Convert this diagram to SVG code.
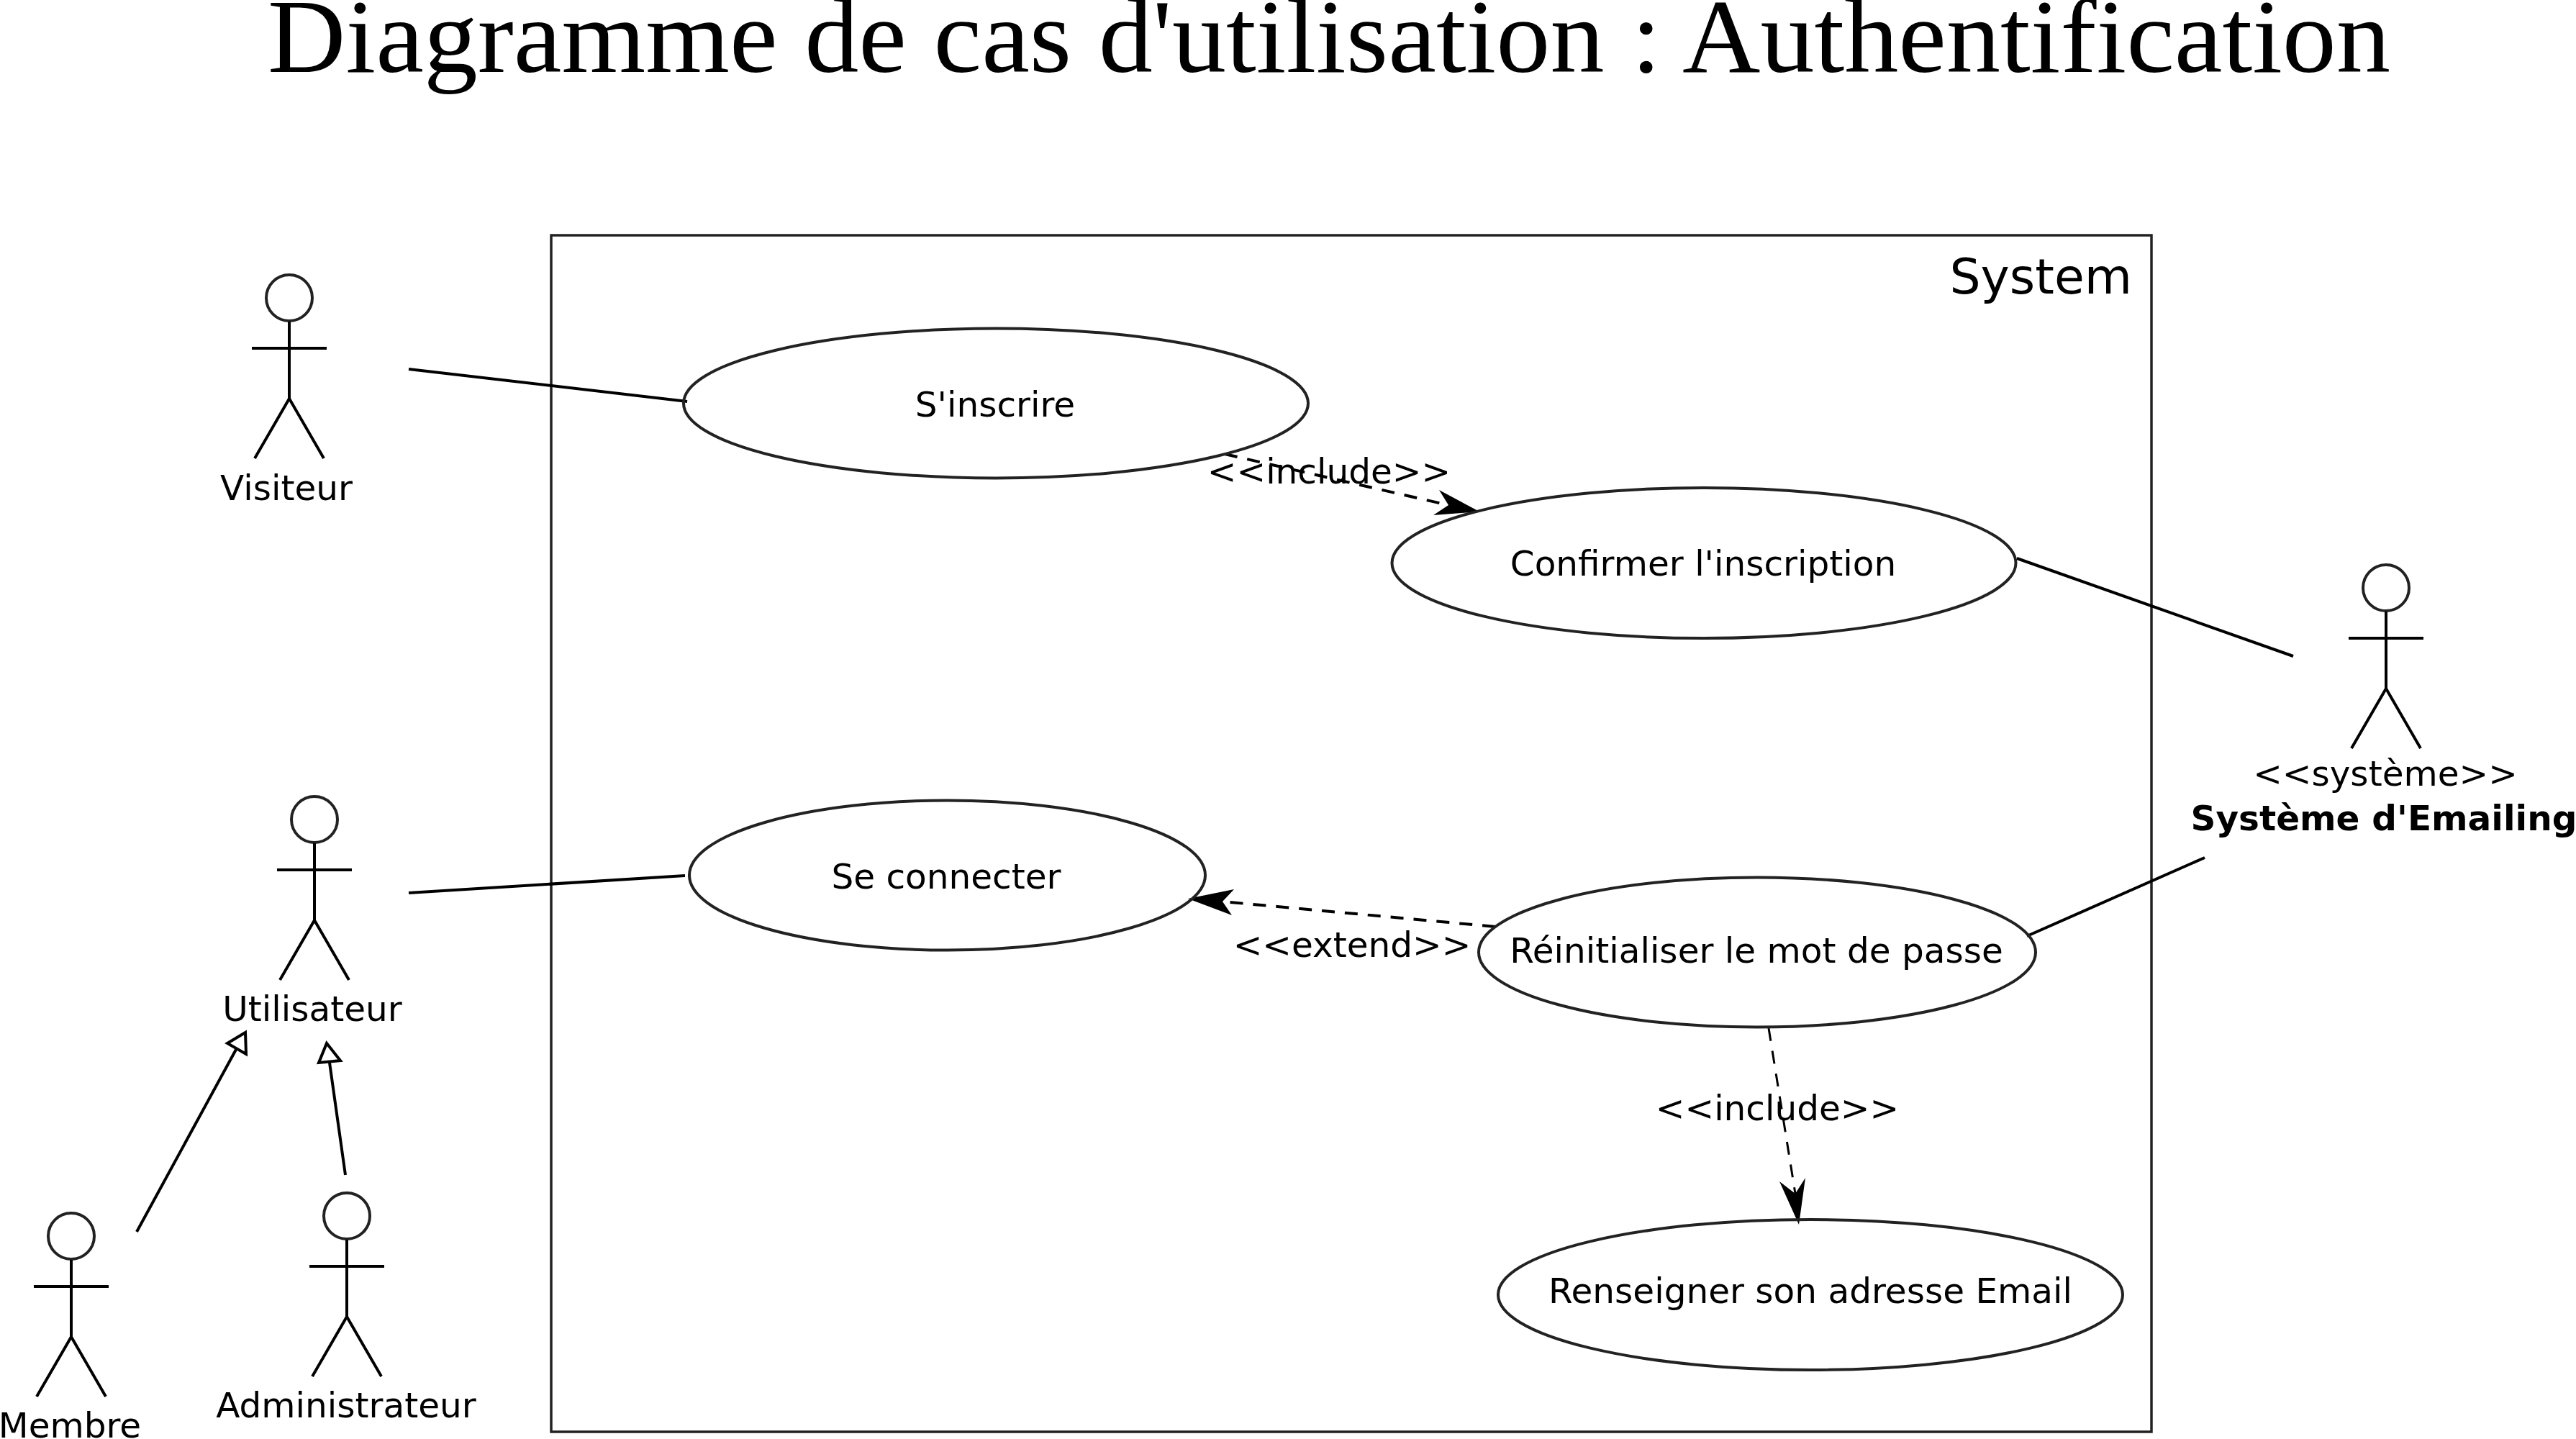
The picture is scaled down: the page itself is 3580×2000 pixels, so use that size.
<svg xmlns="http://www.w3.org/2000/svg" width="3580" height="2000" viewBox="0 0 3580 2000">
<style>
.t{font-family:"DejaVu Sans",sans-serif;font-size:48.5px;fill:#000;text-anchor:middle}
.b{font-weight:bold}
.title{font-family:"Liberation Serif",serif;font-size:146px;fill:#000}
.sh{fill:none;stroke:#222;stroke-width:4}
.l{fill:none;stroke:#000;stroke-width:4}
.d{fill:none;stroke:#000;stroke-width:4;stroke-dasharray:18 14}
.a{fill:#000;stroke:none}
.g{fill:#fff;stroke:#000;stroke-width:4}
</style>
<defs>
<g id="actor" class="l">
<ellipse class="sh" cx="0" cy="32" rx="32" ry="32"/>
<path d="M0 65V172M-52 102H52M-48 255L0 172L48 255"/>
</g>
</defs>
<text class="title" x="372" y="100" textLength="2950" lengthAdjust="spacingAndGlyphs">Diagramme de cas d'utilisation : Authentification</text>
<g id="system">
<rect x="766" y="327" width="2224" height="1663" fill="none" stroke="#222" stroke-width="3.5"/>
<text class="t" x="2963" y="408" style="font-size:68px;text-anchor:end">System</text>
</g>
<g id="connectors">
<path class="l" d="M568 513L955 558"/>
<path class="l" d="M568 1241L952 1217"/>
<path class="l" d="M2803 776L3187 912"/>
<path class="l" d="M2817 1301L3064 1192"/>
<path class="l" d="M190 1712L330 1455"/>
<polygon class="g" points="341,1435 342,1465 316,1450"/>
<path class="l" d="M480 1633L458 1477"/>
<polygon class="g" points="454,1450 473,1474 443,1477"/>
<path class="d" d="M1702 631L2013 702"/>
<polygon class="a" points="2056,711 2000,681 2013,702 1992,716"/>
<path class="d" d="M2078 1288L1699 1253"/>
<polygon class="a" points="1651,1249 1715,1236 1699,1253 1712,1272"/>
<path class="d" style="stroke-width:3" d="M2458 1429L2495 1659"/>
<polygon class="a" points="2500,1702 2509,1637 2495,1659 2473,1642"/>
</g>
<g id="uc-inscrire"><ellipse class="sh" cx="1384" cy="560.5" rx="434" ry="104"/><text class="t" x="1383" y="579">S'inscrire</text></g>
<g id="uc-confirmer"><ellipse class="sh" cx="2368" cy="782.5" rx="433.5" ry="104.5"/><text class="t" x="2367" y="800">Confirmer l'inscription</text></g>
<g id="uc-connecter"><ellipse class="sh" cx="1316.5" cy="1216.5" rx="358.5" ry="104"/><text class="t" x="1315" y="1235">Se connecter</text></g>
<g id="uc-reinit"><ellipse class="sh" cx="2442" cy="1323.5" rx="387" ry="104"/><text class="t" x="2441" y="1338">Réinitialiser le mot de passe</text></g>
<g id="uc-email"><ellipse class="sh" cx="2516" cy="1799.5" rx="434" ry="104.5"/><text class="t" x="2516" y="1811">Renseigner son adresse Email</text></g>
<g id="labels">
<text class="t" x="1847" y="672">&lt;&lt;include&gt;&gt;</text>
<text class="t" x="1879" y="1330">&lt;&lt;extend&gt;&gt;</text>
<text class="t" x="2470" y="1557">&lt;&lt;include&gt;&gt;</text>
</g>
<g id="actor-visiteur"><use href="#actor" x="402" y="382"/><text class="t" x="398" y="695">Visiteur</text></g>
<g id="actor-utilisateur"><use href="#actor" x="437" y="1107"/><text class="t" x="434" y="1419">Utilisateur</text></g>
<g id="actor-membre"><use href="#actor" x="99" y="1686"/><text class="t" x="97" y="1998">Membre</text></g>
<g id="actor-admin"><use href="#actor" x="482" y="1658"/><text class="t" x="481" y="1970">Administrateur</text></g>
<g id="actor-systeme"><use href="#actor" x="3316" y="785"/><text class="t" x="3315" y="1092">&lt;&lt;système&gt;&gt;</text><text class="t b" x="3313" y="1154">Système d'Emailing</text></g>
</svg>
